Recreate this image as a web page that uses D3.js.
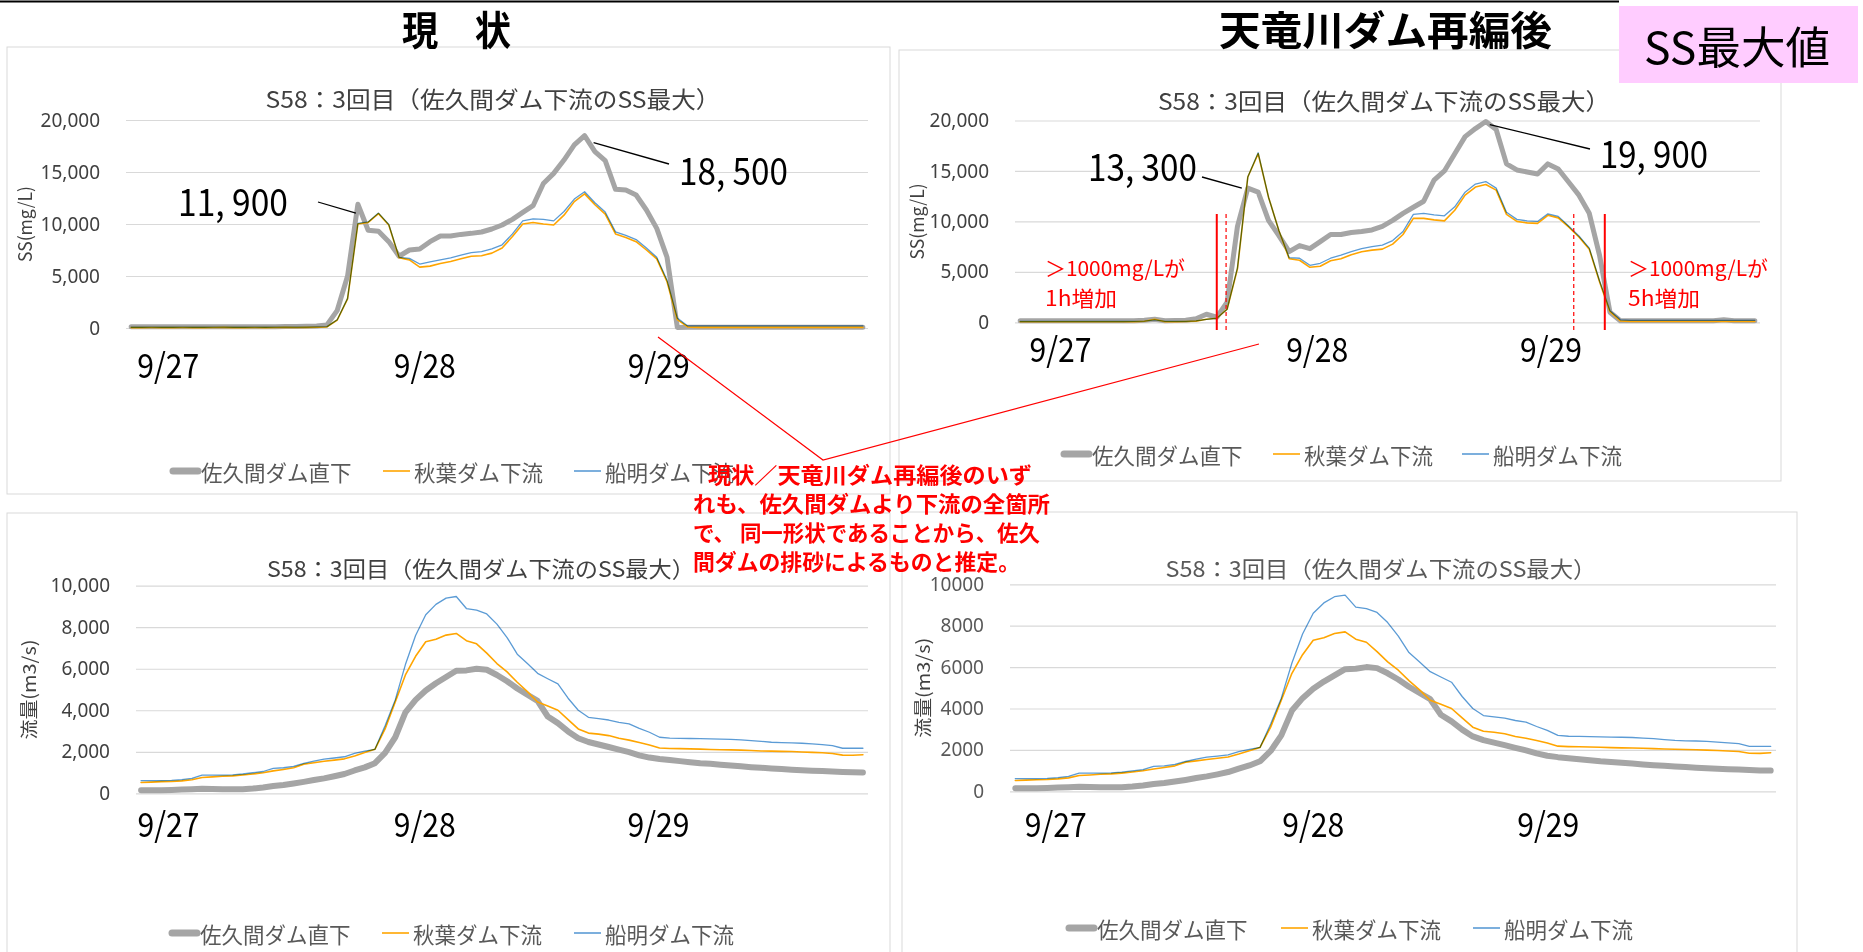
<!DOCTYPE html>
<html>
<head>
<meta charset="utf-8">
<script src="https://cdn.jsdelivr.net/npm/d3@7"></script>
<style>
  html, body { margin: 0; padding: 0; background: #fff; }
  svg { display: block; }
</style>
</head>
<body>
<svg id="chart" width="1863" height="952"></svg>
<script>
// ---------------------------------------------------------------
// Hourly records, 9/27 – 9/29 (72 steps)
// ---------------------------------------------------------------
const hours = d3.range(72);

const seriesNames = ['佐久間ダム直下', '秋葉ダム下流', '船明ダム下流'];
const dateLabels = ['9/27', '9/28', '9/29'];

// SS (mg/L) – present condition
const ssNowSakuma = [
  120, 120, 120, 120, 120, 120, 120, 120, 120, 120, 120, 120,
  120, 120, 130, 140, 150, 170, 200, 300, 1700, 5000, 11900, 9400,
  9300, 8300, 6900, 7500, 7600, 8300, 8850, 8850, 9000, 9100, 9230, 9520,
  9900, 10450, 11120, 11760, 13900, 14870, 16150, 17600, 18500, 16950, 16090, 13330,
  13270, 12790, 11350, 9580, 6800, 50, 80, 80, 80, 80, 80, 80,
  80, 80, 80, 80, 80, 80, 80, 80, 80, 80, 80, 80
];
const ssNowAkiha = [
  40, 40, 50, 40, 40, 50, 40, 40, 50, 60, 40, 40,
  50, 40, 50, 60, 50, 60, 70, 100, 770, 2800, 10000, 10150,
  11000, 9900, 6750, 6550, 5850, 5950, 6200, 6400, 6650, 6900, 6950, 7200,
  7700, 8800, 10000, 10150, 10000, 9900, 10850, 12150, 12900, 11850, 10950, 9050,
  8700, 8300, 7500, 6650, 4450, 800, 100, 60, 60, 60, 60, 60,
  60, 60, 60, 60, 60, 60, 60, 60, 60, 60, 60, 60
];
const ssNowFunagira = [
  70, 70, 80, 70, 70, 80, 70, 70, 80, 80, 70, 70,
  80, 70, 80, 80, 80, 90, 100, 130, 800, 2850, 10050, 10200,
  11050, 9950, 6800, 6700, 6150, 6350, 6550, 6750, 7000, 7250, 7350, 7600,
  8000, 9050, 10300, 10500, 10450, 10300, 11200, 12400, 13100, 12050, 11150, 9250,
  8900, 8500, 7700, 6800, 4600, 950, 200, 200, 200, 200, 200, 200,
  200, 200, 200, 200, 200, 200, 200, 200, 200, 200, 200, 200
];

// SS (mg/L) – after the Tenryu dam reorganisation
const ssAfterSakuma = [
  150, 150, 150, 150, 150, 150, 150, 150, 150, 150, 150, 150,
  200, 300, 150, 180, 200, 350, 800, 500, 2000, 9500, 13300, 12900,
  10100, 8600, 7000, 7600, 7300, 8000, 8700, 8700, 8900, 9000, 9150, 9500,
  10100, 10800, 11400, 12000, 14100, 15000, 16700, 18400, 19200, 19900, 19100, 15700,
  15100, 14900, 14700, 15700, 15200, 13900, 12600, 10800, 6600, 1000, 150, 150,
  150, 150, 150, 150, 150, 150, 150, 150, 250, 150, 150, 150
];
const ssAfterAkiha = [
  50, 50, 50, 50, 50, 50, 50, 50, 50, 50, 50, 60,
  100, 300, 60, 60, 80, 120, 300, 400, 1300, 5300, 14400, 16700,
  12400, 9100, 6300, 6150, 5450, 5550, 6100, 6300, 6700, 7000, 7150, 7250,
  7750, 8700, 10300, 10300, 10150, 10050, 11100, 12600, 13400, 13650, 13100, 10700,
  10000, 9850, 9800, 10600, 10350, 9450, 8450, 7250, 4000, 1050, 130, 80,
  80, 80, 80, 80, 80, 80, 80, 80, 80, 80, 80, 80
];
const ssAfterFunagira = [
  80, 80, 80, 80, 80, 80, 80, 80, 80, 80, 80, 90,
  120, 250, 90, 90, 100, 150, 300, 400, 1300, 5400, 14400, 16800,
  12400, 9100, 6400, 6350, 5650, 5850, 6350, 6650, 7000, 7300, 7500, 7650,
  8100, 9000, 10700, 10800, 10650, 10550, 11450, 12900, 13700, 13950, 13300, 10900,
  10200, 10050, 10000, 10750, 10500, 9550, 8550, 7350, 4100, 1150, 250, 200,
  200, 200, 200, 200, 200, 200, 200, 200, 200, 200, 200, 200
];

// Discharge (m3/s) – same in both cases
const flowSakuma = [
  150, 150, 150, 160, 180, 200, 220, 210, 200, 200, 200, 230,
  280, 350, 400, 470, 550, 640, 720, 820, 930, 1100, 1250, 1450,
  1950, 2700, 3900, 4500, 4950, 5300, 5600, 5900, 5920, 6000, 5950, 5700,
  5400, 5050, 4750, 4450, 3700, 3380, 2980, 2650, 2470, 2350, 2230, 2100,
  1980, 1830, 1720, 1650, 1600, 1550, 1500, 1450, 1420, 1380, 1340, 1300,
  1260, 1230, 1200, 1170, 1140, 1110, 1090, 1070, 1050, 1030, 1010, 1000
];
const flowAkiha = [
  520, 540, 560, 570, 600, 650, 760, 790, 820, 840, 880, 930,
  990, 1080, 1150, 1230, 1400, 1470, 1540, 1600, 1660, 1800, 1960, 2120,
  3100, 4400, 5700, 6600, 7300, 7420, 7620, 7700, 7350, 7200, 6750, 6250,
  5850, 5350, 4900, 4400, 4200, 4000, 3550, 3100, 2900, 2850, 2780, 2650,
  2560, 2450, 2330, 2180, 2160, 2150, 2140, 2130, 2110, 2100, 2090, 2080,
  2060, 2040, 2030, 2020, 2010, 1990, 1970, 1950, 1920, 1840, 1830, 1860
];
const flowFunagira = [
  610, 610, 610, 620, 660, 720, 880, 880, 880, 890, 930, 990,
  1050, 1200, 1230, 1300, 1440, 1550, 1650, 1700, 1760, 1920, 2030, 2120,
  3250, 4500, 6200, 7600, 8600, 9100, 9400, 9480, 8900, 8820, 8640, 8150,
  7500, 6700, 6250, 5780, 5520, 5270, 4580, 4000, 3660, 3600, 3530, 3420,
  3340, 3130, 2940, 2700, 2660, 2650, 2640, 2630, 2620, 2610, 2600, 2570,
  2540, 2500, 2460, 2440, 2430, 2410, 2380, 2340, 2300, 2170, 2170, 2170
];

// Hour positions at which the date captions sit, per panel
const dateAtNowSS = [3.6, 28.5, 51.2];
const dateAtAfterSS = [3.9, 28.7, 51.3];
const dateAtNowFlow = [2.7, 27.9, 50.9];
const dateAtAfterFlow = [3.8, 28.0, 50.1];

// Where SS passes 1000 mg/L (present: dashed, reorganised: solid)
const thresholdNow = [19.9, 53.5];
const thresholdAfter = [19.0, 56.5];

// ---------------------------------------------------------------
const JP = '"Noto Sans CJK JP","Noto Sans",sans-serif';
const NUM = '"Noto Sans","Noto Sans CJK JP",sans-serif';
const GRAY = '#a5a5a5', ORANGE = '#ffa500', BLUE = '#5b9bd5', RED = '#ff0000';

const svg = d3.select('#chart');
const title = 'S58：3回目（佐久間ダム下流のSS最大）';

const panels = [
  {
    frame: [7, 47, 890, 494], plot: [126, 120, 868, 328],
    yMax: 20000, yTicks: [0, 5000, 10000, 15000, 20000], fmt: d3.format(','),
    tickColor: '#404040', yTitle: 'SS(mg/L)', yTitleX: 24, yTitleLen: 76,
    titleAt: [493, 98], titleLen: 455, titleSize: 23, titleColor: '#404040',
    series: [ssNowSakuma, ssNowAkiha, ssNowFunagira], grayWidth: 5,
    dateAt: dateAtNowSS, dateY: 363,
    legend: { y: 471, x: [170, 383, 574] },
    peaks: [
      { i: 22, tx: 178, ty: 199, len: 110, end: [318, 202], off: [-2, 9] },
      { i: 44, tx: 679, ty: 168, len: 109, end: [669, 164], off: [9, 7] }
    ]
  },
  {
    frame: [899, 50, 1781, 481], plot: [1015, 120.5, 1760, 322.3],
    yMax: 20000, yTicks: [0, 5000, 10000, 15000, 20000], fmt: d3.format(','),
    tickColor: '#404040', yTitle: 'SS(mg/L)', yTitleX: 916, yTitleLen: 76,
    titleAt: [1384, 100], titleLen: 452, titleSize: 23, titleColor: '#404040',
    series: [ssAfterSakuma, ssAfterAkiha, ssAfterFunagira], grayWidth: 5,
    dateAt: dateAtAfterSS, dateY: 347,
    legend: { y: 454, x: [1061, 1273, 1462] },
    peaks: [
      { i: 22, tx: 1088, ty: 164, len: 109, end: [1202, 177], off: [-6, 0] },
      { i: 45, tx: 1600, ty: 151, len: 108, end: [1590, 149], off: [4, 3] }
    ],
    thresholds: true
  },
  {
    frame: [7, 513, 890, 962], plot: [136, 585.7, 868, 793.3],
    yMax: 10000, yTicks: [0, 2000, 4000, 6000, 8000, 10000], fmt: d3.format(','),
    tickColor: '#404040', yTitle: '流量(m3/s)', yTitleX: 28, yTitleLen: 100,
    titleAt: [481, 567], titleLen: 428, titleSize: 22, titleColor: '#404040',
    series: [flowSakuma, flowAkiha, flowFunagira], grayWidth: 6,
    dateAt: dateAtNowFlow, dateY: 822,
    legend: { y: 933, x: [169, 382, 574] }
  },
  {
    frame: [902, 512, 1797, 962], plot: [1010, 584.3, 1776, 791.3],
    yMax: 10000, yTicks: [0, 2000, 4000, 6000, 8000, 10000], fmt: d3.format('d'),
    tickColor: '#595959', yTitle: '流量(m3/s)', yTitleX: 922, yTitleLen: 100,
    titleAt: [1381, 567], titleLen: 431, titleSize: 22, titleColor: '#595959',
    series: [flowSakuma, flowAkiha, flowFunagira], grayWidth: 6,
    dateAt: dateAtAfterFlow, dateY: 822,
    legend: { y: 928, x: [1066, 1281, 1473] }
  }
];

function drawPanel(p) {
  const [fx0, fy0, fx1, fy1] = p.frame;
  const [px0, py0, px1, py1] = p.plot;

  svg.append('rect')
    .attr('x', fx0).attr('y', fy0)
    .attr('width', fx1 - fx0).attr('height', fy1 - fy0)
    .attr('fill', '#fff').attr('stroke', '#d9d9d9').attr('stroke-width', 1);

  const x = d3.scaleLinear().domain([-0.5, hours.length - 0.5]).range([px0, px1]);
  const y = d3.scaleLinear().domain([0, p.yMax]).range([py1, py0]);

  // value axis with gridlines
  const ga = svg.append('g').attr('transform', `translate(${px0},0)`)
    .call(d3.axisLeft(y).tickValues(p.yTicks).tickFormat(p.fmt)
      .tickSize(-(px1 - px0)).tickPadding(26));
  ga.select('.domain').remove();
  ga.selectAll('.tick line').attr('stroke', '#d9d9d9').attr('stroke-width', 1.2);
  ga.selectAll('.tick text')
    .attr('font-family', NUM).attr('font-size', 19).attr('fill', p.tickColor);

  // axis title
  svg.append('text')
    .attr('transform', `translate(${p.yTitleX},${(py0 + py1) / 2}) rotate(-90)`)
    .attr('text-anchor', 'middle').attr('dominant-baseline', 'central')
    .attr('font-family', JP).attr('font-size', 18).attr('fill', '#404040')
    .attr('textLength', p.yTitleLen).attr('lengthAdjust', 'spacingAndGlyphs')
    .text(p.yTitle);

  // chart title
  svg.append('text')
    .attr('x', p.titleAt[0]).attr('y', p.titleAt[1])
    .attr('text-anchor', 'middle').attr('dominant-baseline', 'central')
    .attr('font-family', JP).attr('font-size', p.titleSize).attr('fill', p.titleColor)
    .attr('textLength', p.titleLen).attr('lengthAdjust', 'spacingAndGlyphs')
    .text(title);

  // date captions
  svg.append('g').selectAll('text').data(dateLabels).join('text')
    .attr('x', (d, k) => x(p.dateAt[k])).attr('y', p.dateY)
    .attr('text-anchor', 'middle').attr('dominant-baseline', 'central')
    .attr('font-family', JP).attr('font-size', 34).attr('fill', '#000')
    .attr('textLength', 62).attr('lengthAdjust', 'spacingAndGlyphs')
    .text(d => d);

  // the three series
  const line = d3.line().x((d, i) => x(i)).y(d => y(d));
  const styles = [
    { stroke: GRAY, width: p.grayWidth, blend: 'normal' },
    { stroke: ORANGE, width: 1.6, blend: 'normal' },
    { stroke: BLUE, width: 1.3, blend: 'multiply' }
  ];
  p.series.forEach((s, k) => {
    svg.append('path').datum(s)
      .attr('d', line).attr('fill', 'none')
      .attr('stroke', styles[k].stroke).attr('stroke-width', styles[k].width)
      .attr('stroke-linejoin', 'round').attr('stroke-linecap', 'round')
      .style('mix-blend-mode', styles[k].blend);
  });

  // peak labels of the Sakuma series
  (p.peaks || []).forEach(pk => {
    const v = p.series[0][pk.i];
    const px = x(pk.i) + pk.off[0], py = y(v) + pk.off[1];
    svg.append('line')
      .attr('x1', px).attr('y1', py).attr('x2', pk.end[0]).attr('y2', pk.end[1])
      .attr('stroke', '#000').attr('stroke-width', 1.3);
    svg.append('text')
      .attr('x', pk.tx).attr('y', pk.ty)
      .attr('dominant-baseline', 'central')
      .attr('font-family', JP).attr('font-size', 38).attr('fill', '#000')
      .attr('textLength', pk.len).attr('lengthAdjust', 'spacingAndGlyphs')
      .text(d3.format(',')(v).replace(',', ', '));
  });

  // 1000 mg/L crossing markers
  if (p.thresholds) {
    thresholdNow.forEach(h => {
      svg.append('line').attr('x1', x(h)).attr('x2', x(h)).attr('y1', 214).attr('y2', 330)
        .attr('stroke', RED).attr('stroke-width', 1.2).attr('stroke-dasharray', '4,3');
    });
    thresholdAfter.forEach(h => {
      svg.append('line').attr('x1', x(h)).attr('x2', x(h)).attr('y1', 214).attr('y2', 330)
        .attr('stroke', RED).attr('stroke-width', 2);
    });
    const notes = [
      { x: 1045, lines: ['＞1000mg/Lが', '1h増加'] },
      { x: 1628, lines: ['＞1000mg/Lが', '5h増加'] }
    ];
    notes.forEach(n => {
      const t = svg.append('text')
        .attr('x', n.x).attr('y', 266.5)
        .attr('dominant-baseline', 'central')
        .attr('font-family', JP).attr('font-size', 21).attr('fill', RED);
      n.lines.forEach((s, k) => {
        t.append('tspan')
          .attr('x', n.x).attr('y', 266.5 + k * 30.6)
          .attr('textLength', k === 0 ? 140 : 72).attr('lengthAdjust', 'spacingAndGlyphs')
          .text(s);
      });
    });
  }

  // legend
  const lg = svg.append('g');
  seriesNames.forEach((name, k) => {
    const lx = p.legend.x[k], ly = p.legend.y;
    lg.append('line')
      .attr('x1', lx + (k === 0 ? 3 : 0)).attr('x2', lx + (k === 0 ? 28 : 27))
      .attr('y1', ly).attr('y2', ly)
      .attr('stroke', styles[k].stroke).attr('stroke-width', k === 0 ? 7 : 1.6)
      .attr('stroke-linecap', k === 0 ? 'round' : 'butt');
    lg.append('text')
      .attr('x', lx + 31).attr('y', ly)
      .attr('dominant-baseline', 'central')
      .attr('font-family', JP).attr('font-size', 21.5).attr('fill', '#595959')
      .text(name);
  });
}

// top rule
svg.append('line').attr('x1', 0).attr('x2', 1619).attr('y1', 1.5).attr('y2', 1.5)
  .attr('stroke', '#000').attr('stroke-width', 2);

panels.forEach(drawPanel);

// section headings
svg.append('text').attr('x', 402).attr('y', 27.5)
  .attr('dominant-baseline', 'central')
  .attr('font-family', JP).attr('font-size', 40).attr('font-weight', 'bold').attr('fill', '#000')
  .attr('textLength', 109).attr('lengthAdjust', 'spacingAndGlyphs')
  .text('現　状');
svg.append('text').attr('x', 1219).attr('y', 27.5)
  .attr('dominant-baseline', 'central')
  .attr('font-family', JP).attr('font-size', 40).attr('font-weight', 'bold').attr('fill', '#000')
  .attr('textLength', 333).attr('lengthAdjust', 'spacingAndGlyphs')
  .text('天竜川ダム再編後');

// tag box
svg.append('rect').attr('x', 1619).attr('y', 6).attr('width', 239).attr('height', 77)
  .attr('fill', '#ffccff');
svg.append('text').attr('x', 1644).attr('y', 45)
  .attr('dominant-baseline', 'central')
  .attr('font-family', JP).attr('font-size', 44).attr('fill', '#000')
  .attr('textLength', 186).attr('lengthAdjust', 'spacingAndGlyphs')
  .text('SS最大値');

// explanatory callout
svg.append('polyline')
  .attr('points', '658,337 823,460 1259,344')
  .attr('fill', 'none').attr('stroke', RED).attr('stroke-width', 1.2);

const calloutLines = [
  { t: '現状／天竜川ダム再編後のいず', x: 708, len: 324 },
  { t: 'れも、佐久間ダムより下流の全箇所', x: 693, len: 357 },
  { t: 'で、 同一形状であることから、佐久', x: 693, len: 347 },
  { t: '間ダムの排砂によるものと推定。', x: 693, len: 327 }
];
const callout = svg.append('text')
  .attr('x', 693).attr('y', 472.5)
  .attr('dominant-baseline', 'central')
  .attr('font-family', JP).attr('font-size', 22).attr('font-weight', 'bold').attr('fill', RED);
calloutLines.forEach((c, k) => {
  callout.append('tspan')
    .attr('x', c.x).attr('y', 472.5 + k * 29)
    .attr('textLength', c.len).attr('lengthAdjust', 'spacingAndGlyphs')
    .text(c.t);
});
</script>
</body>
</html>
